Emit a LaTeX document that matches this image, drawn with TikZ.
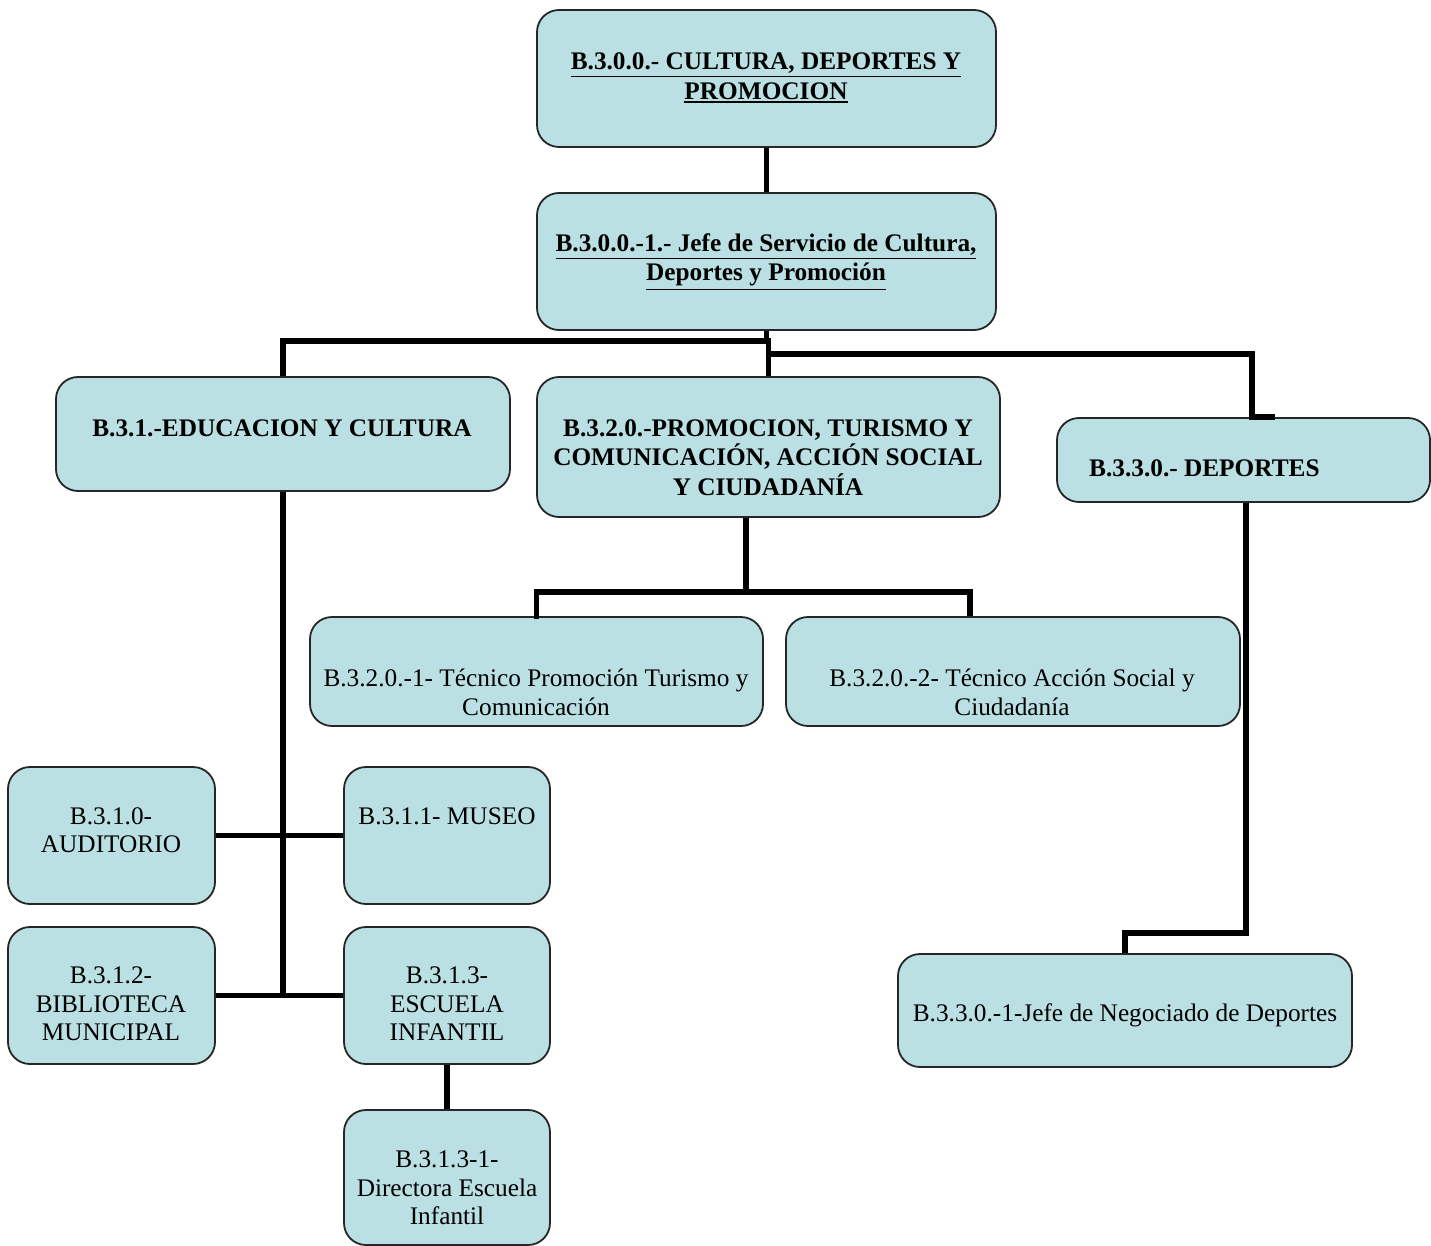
\documentclass[tikz,border=0pt]{standalone}
\usepackage{fontspec}
\setmainfont{Liberation Serif}
\definecolor{boxfill}{RGB}{187,224,227}
\newcommand\thkul[1]{\setbox0\hbox{#1}\vtop{\box0\kern2.2pt\hrule height 1.8pt}}
\begin{document}
\begin{tikzpicture}[x=1pt,y=-1pt,
  box/.style={draw=black!85, line width=1.8pt, fill=boxfill, rounded corners=22pt, inner sep=0pt},
  conn/.style={line width=5.5pt, black},
  txt/.style={align=center, inner sep=0pt, font=\fontsize{25.3}{28.5}\selectfont},
  btxt/.style={align=center, inner sep=0pt, font=\fontsize{25.3}{29.5}\selectfont\bfseries}]
\fill[white] (0,0) rectangle (1431,1246);
\useasboundingbox (0,0) rectangle (1431,1246);
% boxes
\node[box, minimum width=459pt, minimum height=137pt] (A) at (766.5,78.5) {};
\node[box, minimum width=459pt, minimum height=137pt] (B) at (766.5,261.5) {};
\node[box, minimum width=454pt, minimum height=114pt] (C) at (283,434) {};
\node[box, minimum width=463pt, minimum height=140pt] (D) at (768.5,447) {};
\node[box, minimum width=373pt, minimum height=84pt] (E) at (1243.5,460) {};
\node[box, minimum width=453pt, minimum height=109pt] (F) at (536.5,671.5) {};
\node[box, minimum width=454pt, minimum height=109pt] (G) at (1013,671.5) {};
\node[box, minimum width=207pt, minimum height=137pt] (H) at (111.5,835.5) {};
\node[box, minimum width=206pt, minimum height=137pt] (I) at (447,835.5) {};
\node[box, minimum width=207pt, minimum height=137pt] (J) at (111.5,995.5) {};
\node[box, minimum width=206pt, minimum height=137pt] (K) at (447,995.5) {};
\node[box, minimum width=206pt, minimum height=135pt] (L) at (447,1177.5) {};
\node[box, minimum width=454pt, minimum height=113pt] (M) at (1125,1010.5) {};
% texts
\node[btxt] (At) at (766,78) {\thkul{B.3.0.0.- CULTURA, DEPORTES Y}\\\thkul{PROMOCION}};
\node[btxt] (Bt) at (766,262) {\thkul{B.3.0.0.-1.- Jefe de Servicio de Cultura,}\\\thkul{Deportes y Promoción}};
\node[btxt] (Ct) at (282,428) {B.3.1.-EDUCACION Y CULTURA};
\node[btxt] (Dt) at (768,457.5) {B.3.2.0.-PROMOCION, TURISMO Y\\COMUNICACIÓN, ACCIÓN SOCIAL\\Y CIUDADANÍA};
\node[btxt, anchor=west] (Et) at (1089,468) {B.3.3.0.- DEPORTES};
\node[txt] (Ft) at (536,692.5) {B.3.2.0.-1- Técnico Promoción Turismo y\\Comunicación};
\node[txt] (Gt) at (1012,692.5) {B.3.2.0.-2- Técnico Acción Social y\\Ciudadanía};
\node[txt] (Ht) at (111,830) {B.3.1.0-\\AUDITORIO};
\node[txt] (It) at (447,816) {B.3.1.1- MUSEO};
\node[txt] (Jt) at (111,1004) {B.3.1.2-\\BIBLIOTECA\\MUNICIPAL};
\node[txt] (Kt) at (447,1004) {B.3.1.3-\\ESCUELA\\INFANTIL};
\node[txt] (Lt) at (447,1188) {B.3.1.3-1-\\Directora Escuela\\Infantil};
\node[txt] (Mt) at (1125,1015) {B.3.3.0.-1-Jefe de Negociado de Deportes};
% connectors
\draw[conn] (A.south) -- (B.north);
\coordinate (j1) at ([yshift=-10pt]B.south);
\draw[conn] (B.south) -- (j1) -| (C.north);
\draw[conn] (j1) -| (D.north);
\coordinate (j2) at ([yshift=22pt]D.north);
\draw[conn] (j2) -| ([xshift=8.5pt]E.north) -- ++(23,0);
\draw[conn] ([xshift=-22.5pt]D.south) -- ++(0,74) coordinate (j3);
\draw[conn] (j3) -| ([yshift=-3pt]F.north);
\draw[conn] (j3) -| ([xshift=-43pt]G.north);
\draw[conn] (C.south) -- (C.south |- J.east);
\draw[conn] (H.east) -- (I.west);
\draw[conn] (J.east) -- (K.west);
\draw[conn] (K.south) -- (L.north);
\draw[conn] ([xshift=2.5pt]E.south) -- ++(0,430) -| (M.north);
\end{tikzpicture}
\end{document}
